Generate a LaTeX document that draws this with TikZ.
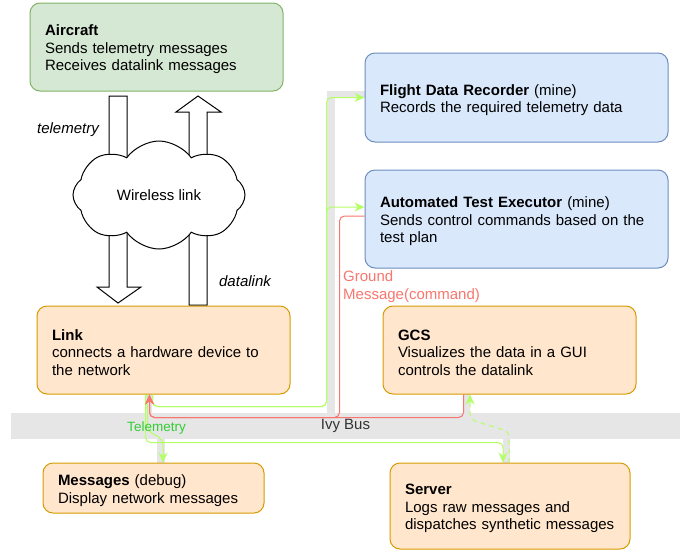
\documentclass[tikz,border=0pt]{standalone}
\usepackage{fontspec}
\setmainfont{Liberation Sans}
\usetikzlibrary{arrows.meta,shapes.symbols}

\definecolor{greenfill}{HTML}{D5E8D4}
\definecolor{greendraw}{HTML}{82B366}
\definecolor{bluefill}{HTML}{DAE8FC}
\definecolor{bluedraw}{HTML}{6C8EBF}
\definecolor{orangefill}{HTML}{FFE6CC}
\definecolor{orangedraw}{HTML}{D79B00}
\definecolor{busgray}{HTML}{E6E6E6}
\definecolor{tmgreen}{HTML}{B3FF66}
\definecolor{tmtext}{HTML}{33CC33}
\definecolor{cmdred}{HTML}{F8766D}

\begin{document}
\begin{tikzpicture}[x=1pt,y=-1pt,>={Stealth[length=10pt,width=9pt]},
		font=\fontsize{15}{17.5}\selectfont,
		box/.style={draw,rounded corners=10pt,line width=1pt,align=left,inner xsep=15pt,inner ysep=0pt,
			execute at begin node={\rule{0pt}{16pt}}},
		aircraft box/.style={box,draw=greendraw,fill=greenfill},
		mine box/.style={box,draw=bluedraw,fill=bluefill},
		ground box/.style={box,draw=orangedraw,fill=orangefill},
		tm line/.style={draw=tmgreen,line width=1pt,rounded corners=5pt,->},
		cmd line/.style={draw=cmdred,line width=1pt,rounded corners=5pt,->},
		bus part/.style={fill=busgray,draw=none},
		block arrow/.style={draw,fill=white,line width=1pt,line join=miter},
		flow label/.style={font=\fontsize{15}{17.5}\selectfont\itshape}]
	\useasboundingbox (0,0) rectangle (688,550);

	% ivy bus
	\node[bus part,minimum width=669pt,minimum height=26pt,inner sep=0pt,text=black!80] (bus) at (345.5,426) {Ivy Bus};
	\fill[bus part] (327,91) rectangle (335,413);
	\fill[bus part] (327,91) rectangle (365,98);
	\fill[bus part] (145,394) rectangle (152,413);
	\fill[bus part] (463,394) rectangle (470,413);
	\fill[bus part] (157,439) rectangle (165,463);
	\fill[bus part] (503,439) rectangle (510,463);

	% wireless link
	\draw[block arrow] (109,96) -- (127,96) -- (127,287) -- (141,287) -- (118,303) -- (97,287) -- (109,287) -- cycle;
	\draw[block arrow] (189,305) -- (189,112) -- (176,112) -- (198,96) -- (221,112) -- (207,112) -- (207,305) -- cycle;
	\node[cloud,draw,fill=white,line width=1pt,cloud puffs=8,cloud puff arc=110,aspect=1.6,
		minimum width=172pt,minimum height=108pt,inner sep=0pt] (wireless) at (159,195) {Wireless link};
	\node[flow label] (telemetry) at (68,130) {telemetry};
	\node[flow label] (datalink) at (245,281) {datalink};

	% boxes
	\node[aircraft box,text width=223pt,minimum height=88pt] (aircraft) at (156.5,47)
		{\textbf{Aircraft}\\Sends telemetry messages\\Receives datalink messages};
	\node[mine box,text width=273pt,minimum height=89pt] (fdr) at (516.5,97.5)
		{\textbf{Flight Data Recorder} (mine)\\Records the required telemetry data};
	\node[mine box,text width=273pt,minimum height=98pt] (ate) at (516.5,219)
		{\textbf{Automated Test Executor} (mine)\\Sends control commands based on the\\test plan};
	\node[ground box,text width=223pt,minimum height=88pt] (link) at (163.5,350)
		{\textbf{Link}\\connects a hardware device to\\the network};
	\node[ground box,text width=223pt,minimum height=88pt] (gcs) at (509.5,350)
		{\textbf{GCS}\\Visualizes the data in a GUI\\controls the datalink};
	\node[ground box,text width=191pt,minimum height=50pt] (messages) at (153.5,488)
		{\textbf{Messages} (debug)\\Display network messages};
	\node[ground box,text width=210pt,minimum height=86pt] (server) at (510,506)
		{\textbf{Server}\\Logs raw messages and\\dispatches synthetic messages};

	% telemetry
	\draw[tm line] ([xshift=-11pt]link.south) -- ++(0,12) -| ([xshift=-38pt]fdr.west) -- (fdr.west);
	\draw[tm line] ([xshift=-11pt]link.south) -- ++(0,12) -| ([xshift=-38pt,yshift=12pt]ate.west) -- ([yshift=12pt]ate.west);
	\draw[tm line] ([xshift=-18pt]link.south) |- ([xshift=-7pt,yshift=20pt]server.north) -- ([xshift=-7pt]server.north);
	\draw[tm line] ([xshift=-16pt]link.south) -- ++(0,36) -- ([xshift=9.5pt,yshift=23pt]messages.north) -- ([xshift=9.5pt]messages.north);
	\draw[tm line,dash pattern=on 5pt off 4pt] ([xshift=-1pt]server.north) -- ++(0,-31) -- ([xshift=-39.5pt,yshift=-25pt]gcs.south) -- ([xshift=-39.5pt]gcs.south);

	% commands
	\draw[cmd line] ([xshift=-46pt]gcs.south) |- ([xshift=-14pt,yshift=-23pt]link.south) -- ([xshift=-14pt]link.south);
	\draw[cmd line] ([yshift=3pt]ate.west) -- ([xshift=-25pt,yshift=3pt]ate.west) |- ([xshift=-14pt,yshift=-23pt]link.south) -- ([xshift=-14pt]link.south);

	\node[text=cmdred,align=left,anchor=west,inner sep=0pt] (ground) at (343,286.5) {Ground\\Message(command)};
	\node[text=tmtext,font=\fontsize{13.5}{15}\selectfont,inner sep=0pt] (tmbus) at (156.5,428) {Telemetry};
\end{tikzpicture}
\end{document}
